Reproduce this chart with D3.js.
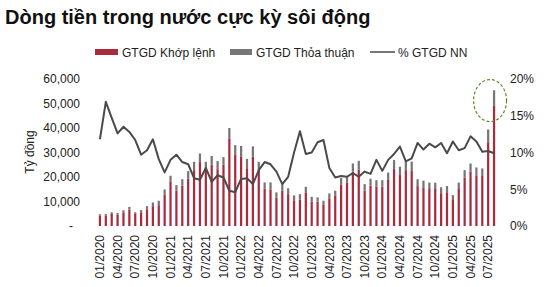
<!DOCTYPE html>
<html>
<head>
<meta charset="utf-8">
<script src="https://cdn.jsdelivr.net/npm/d3@7/dist/d3.min.js"></script>
<style>
  body { margin: 0; background: #fff; }
  svg { display: block; font-family: "Liberation Sans", Arial, sans-serif; }
</style>
</head>
<body>
<svg id="chart" width="548" height="287"></svg>
<script>
// months 01/2020 .. 08/2025
const months = [
  '01/2020','02/2020','03/2020','04/2020','05/2020','06/2020','07/2020','08/2020','09/2020','10/2020','11/2020','12/2020',
  '01/2021','02/2021','03/2021','04/2021','05/2021','06/2021','07/2021','08/2021','09/2021','10/2021','11/2021','12/2021',
  '01/2022','02/2022','03/2022','04/2022','05/2022','06/2022','07/2022','08/2022','09/2022','10/2022','11/2022','12/2022',
  '01/2023','02/2023','03/2023','04/2023','05/2023','06/2023','07/2023','08/2023','09/2023','10/2023','11/2023','12/2023',
  '01/2024','02/2024','03/2024','04/2024','05/2024','06/2024','07/2024','08/2024','09/2024','10/2024','11/2024','12/2024',
  '01/2025','02/2025','03/2025','04/2025','05/2025','06/2025','07/2025','08/2025'
]

// GTGD khop lenh (ty dong)
const khopLenh = [
  4300, 4300, 4900, 4700, 5600, 6600, 4900, 5600, 6800, 8100, 8500, 12700,
  18000, 14400, 16500, 19400, 22800, 26100, 23000, 25000, 23200, 25100, 35800, 29000,
  28200, 23600, 28300, 22600, 15300, 15000, 11500, 14400, 13000, 10500, 10800, 13500,
  10000, 9900, 8600, 11300, 12300, 17000, 17600, 22200, 23100, 14500, 16500, 16000,
  16100, 18800, 23300, 20800, 22800, 22700, 16300, 15800, 15100, 15100, 13400, 13800,
  10600, 15100, 19800, 22100, 20700, 20400, 34200, 49000
]

// GTGD thoa thuan (ty dong)
const thoaThuan = [
  500, 600, 700, 600, 800, 1200, 700, 900, 1300, 1500, 1800, 2200,
  2500, 2300, 2600, 3000, 3400, 3500, 3200, 3600, 3300, 3000, 4200, 4000,
  4500, 3800, 4200, 3600, 2500, 2800, 2200, 2600, 2400, 2000, 2200, 2500,
  1900, 1800, 1700, 2000, 2100, 2600, 2800, 3300, 3500, 2600, 2800, 2700,
  2600, 3000, 3600, 3400, 3500, 3600, 2800, 2700, 2600, 2600, 2400, 2500,
  2000, 2600, 3000, 3400, 3200, 3100, 5200, 6400
]

// % GTGD NN
const pctNN = [
  11.8, 16.9, 14.7, 12.6, 13.5, 12.8, 11.7, 9.7, 10.3, 11.8, 9.1, 7.3,
  9.0, 9.7, 8.7, 8.4, 6.5, 6.3, 7.9, 6.0, 6.9, 6.6, 4.8, 4.6,
  6.4, 6.5, 5.7, 7.6, 8.7, 8.4, 7.4, 5.7, 6.7, 10.0, 12.9, 9.8,
  10.0, 11.4, 11.7, 7.9, 6.6, 6.8, 6.7, 7.2, 6.7, 7.4, 7.1, 9.0,
  7.5, 9.0, 9.8, 10.8, 8.8, 9.2, 11.3, 10.4, 11.2, 10.7, 11.3, 9.9,
  11.5, 10.3, 10.6, 12.2, 11.5, 10.1, 10.2, 9.9
]

const leftTicks = [0, 10000, 20000, 30000, 40000, 50000, 60000]
const rightTicks = [0, 0.05, 0.10, 0.15, 0.20]
const tickMonths = months.filter(m => ['01', '04', '07', '10'].includes(m.slice(0, 2)))

const rows = months.map((m, i) => ({ m, kl: khopLenh[i], tt: thoaThuan[i], nn: pctNN[i] / 100 }))

const svg = d3.select('#chart')
const plotTop = 79, plotBottom = 226

const x = d3.scaleBand().domain(months).range([97, 497]).paddingInner(0.62).paddingOuter(0.31)
const yL = d3.scaleLinear().domain([0, 60000]).range([plotBottom, plotTop])
const yR = d3.scaleLinear().domain([0, 0.2]).range([plotBottom, plotTop])
const cx = d => x(d) + x.bandwidth() / 2

const colKL = '#a92c3e'
const colTT = '#767676'
const colNN = '#4a4a4a'

// title
svg.append('text').attr('x', 5).attr('y', 24)
  .attr('font-weight', 'bold').attr('font-size', 20).attr('fill', '#111')
  .text('Dòng tiền trong nước cực kỳ sôi động')

// legend
const lg = svg.append('g').attr('font-size', 12).attr('fill', '#222')
lg.append('rect').attr('x', 95).attr('y', 49).attr('width', 23).attr('height', 6).attr('fill', colKL)
lg.append('text').attr('x', 122).attr('y', 56.5).text('GTGD Khớp lệnh')
lg.append('rect').attr('x', 230).attr('y', 49).attr('width', 22).attr('height', 6).attr('fill', colTT)
lg.append('text').attr('x', 256).attr('y', 56.5).text('GTGD Thỏa thuận')
lg.append('line').attr('x1', 370).attr('x2', 395).attr('y1', 52).attr('y2', 52).attr('stroke', colNN).attr('stroke-width', 1.5)
lg.append('text').attr('x', 398).attr('y', 56.5).text('% GTGD NN')

// bars (stacked)
const g = svg.append('g')
g.selectAll('rect.kl').data(rows).join('rect').attr('class', 'kl')
  .attr('x', d => x(d.m)).attr('width', x.bandwidth())
  .attr('y', d => yL(d.kl)).attr('height', d => plotBottom - yL(d.kl))
  .attr('fill', colKL)
g.selectAll('rect.tt').data(rows).join('rect').attr('class', 'tt')
  .attr('x', d => x(d.m)).attr('width', x.bandwidth())
  .attr('y', d => yL(d.kl + d.tt)).attr('height', d => yL(d.kl) - yL(d.kl + d.tt))
  .attr('fill', colTT)

// line
const line = d3.line().x(d => cx(d.m)).y(d => yR(d.nn))
g.append('path').datum(rows).attr('fill', 'none').attr('stroke', colNN)
  .attr('stroke-width', 2).attr('stroke-linejoin', 'round').attr('d', line)

// highlight ellipse around the last month
const last = rows[rows.length - 1]
svg.append('ellipse').attr('cx', cx(last.m) - 4).attr('cy', yL(51200))
  .attr('rx', 16.5).attr('ry', 21).attr('fill', 'none')
  .attr('stroke', '#5f8a2c').attr('stroke-width', 1.2).attr('stroke-dasharray', '3,2')

// axes
const axL = svg.append('g').attr('transform', 'translate(84,0)')
  .call(d3.axisLeft(yL).tickValues(leftTicks).tickSize(0).tickPadding(4)
    .tickFormat(d => d === 0 ? '-' : d3.format(',')(d)))
axL.select('.domain').remove()
axL.selectAll('text').attr('font-size', 12).attr('font-family', null).attr('fill', '#222')
axL.selectAll('text').filter(d => d === 0).attr('dx', -7)

const axR = svg.append('g').attr('transform', 'translate(506,0)')
  .call(d3.axisRight(yR).tickValues(rightTicks).tickSize(0).tickPadding(4).tickFormat(d3.format('.0%')))
axR.select('.domain').remove()
axR.selectAll('text').attr('font-size', 12).attr('font-family', null).attr('fill', '#222')

const axB = svg.append('g').attr('transform', `translate(0,${plotBottom})`)
  .call(d3.axisBottom(x).tickValues(tickMonths).tickSize(0))
axB.select('.domain').remove()
axB.selectAll('text').attr('font-size', 12).attr('font-family', null).attr('fill', '#222')
  .attr('transform', 'rotate(-90)').attr('text-anchor', 'end')
  .attr('x', -9).attr('y', 0).attr('dy', '0.35em')

// y axis title
svg.append('text').attr('transform', 'translate(34,152) rotate(-90)')
  .attr('text-anchor', 'middle').attr('font-size', 12).attr('fill', '#222').text('Tỷ đồng')
</script>
</body>
</html>
